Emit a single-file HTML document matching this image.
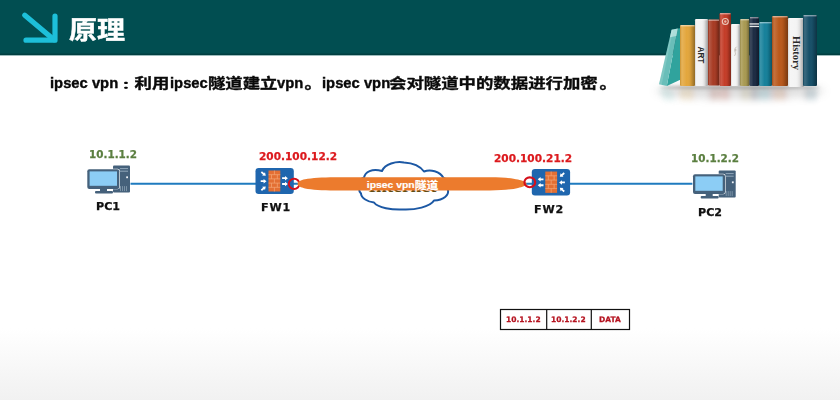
<!DOCTYPE html>
<html><head><meta charset="utf-8">
<style>
html,body{margin:0;padding:0;}
body{width:840px;height:400px;overflow:hidden;position:relative;background:linear-gradient(#fff 0,#fff 82%,#f1f1f1 100%);font-family:"Liberation Sans","Noto Sans CJK SC",sans-serif;}
.hdr{position:absolute;left:0;top:0;width:840px;height:55px;background:linear-gradient(#014e51 0,#014e51 52.5px,#003e40 54.5px,#014649 55px);border-bottom:1px solid #9dbcbd;}
.title{position:absolute;left:69px;top:13px;font-size:28px;font-weight:bold;color:#fff;line-height:32px;letter-spacing:0px;transform:scaleY(0.88);transform-origin:0 100%;-webkit-text-stroke:0.5px #fff;}
.main{position:absolute;left:0;top:70px;width:840px;height:24px;font-weight:bold;color:#0a0a0a;white-space:nowrap;}
.main span{position:absolute;top:0;line-height:24px;transform-origin:0 50%;}
.la{font-family:"Liberation Sans",sans-serif;font-size:15.4px;transform:scaleX(0.96);top:1px !important;-webkit-text-stroke:0.4px #0a0a0a;}
.cj{font-family:"Noto Sans CJK SC",sans-serif;font-size:17.4px;transform:scaleY(0.81);-webkit-text-stroke:0.45px #0a0a0a;}
.jp{font-family:"Noto Sans CJK JP",sans-serif;font-size:19px;font-weight:900;transform:scaleY(0.55);top:2.6px !important;-webkit-text-stroke:0 !important;}
.lbl{position:absolute;will-change:transform;-webkit-text-stroke:0.25px currentColor;font-weight:bold;font-size:10.2px;line-height:14px;white-space:nowrap;font-family:"DejaVu Sans","Liberation Sans",sans-serif;}
.g{color:#5b7f40;}
.r{color:#dc1a1e;}
.k{color:#111;}
.nm{font-size:11.1px;}
.pk{font-size:7.5px;color:#b5121f;}
svg{position:absolute;left:0;top:0;}
</style></head><body>
<div class="hdr"></div>
<svg width="840" height="400" viewBox="0 0 840 400">
  <!-- arrow -->
  <g stroke="#1dbfd9" stroke-width="5.2" stroke-linecap="round" stroke-linejoin="round" fill="none">
    <path d="M24.8 15.2 L54 39.8"/><path d="M26 40.2 H55 V16"/>
  </g>
  <!-- lines -->
  <g stroke="#1f7bbf" stroke-width="1.9">
    <path d="M130.500 183.700 H256"/><path d="M290 183.700 H534"/><path d="M569 183.700 H693"/>
  </g>
  <!-- cloud -->
  <path d="M359 188 C358 183 360 179 364 177.500 C365 172 372 168 382 171 C385 164 396 161 404 162.500 C412 163 420 166 424 171.500 C430 169 440 171 443.500 178 C449 180 451 186 448 190 C449 195 444 200 434 200.500 C430 207 415 210 403 209.500 C392 210 378 208 374 202.500 C368 202 361 198 361 193.500 C359.500 192 359 190 359 188Z" fill="#fff" stroke="#1c58a4" stroke-width="2" stroke-linejoin="round"/>
  <text x="368.500" y="192.400" font-family="Liberation Serif, serif" font-weight="bold" font-size="16.500" fill="#5f4c12" textLength="68" lengthAdjust="spacingAndGlyphs">Internet</text>
  <defs>
    <g id="fw">
      <rect x="0" y="0" width="38.300" height="26" rx="3.200" fill="#1f66ae"/>
      <rect x="13" y="2.500" width="11.800" height="21" fill="#e36f33"/>
      <g stroke="#f3a877" stroke-width=".7" fill="none">
        <path d="M13 6.700 H24.800 M13 10.900 H24.800 M13 15.100 H24.800 M13 19.300 H24.800"/>
        <path d="M18.900 2.500 V6.700 M16 6.700 V10.900 M21.800 6.700 V10.900 M18.900 10.900 V15.100 M16 15.100 V19.300 M21.800 15.100 V19.300 M18.900 19.300 V23.500"/>
      </g>
      <g fill="#fff">
        <path d="M5.200 12.300 H8.100 V11 L11 13.200 L8.100 15.400 V14.100 H5.200Z"/>
        <path d="M5.200 12.300 H8.100 V11 L11 13.200 L8.100 15.400 V14.100 H5.200Z" transform="translate(21.400 -3)"/>
        <path d="M5.200 12.300 H8.100 V11 L11 13.200 L8.100 15.400 V14.100 H5.200Z" transform="translate(21.400 2.800)"/>
        <path d="M5.200 12.300 H8.100 V11 L11 13.200 L8.100 15.400 V14.100 H5.200Z" transform="translate(0 -7.400) rotate(40 8 13.200)"/>
        <path d="M5.200 12.300 H8.100 V11 L11 13.200 L8.100 15.400 V14.100 H5.200Z" transform="translate(0 7.200) rotate(-40 8 13.200)"/>
      </g>
    </g>
    <g id="pc">
      <rect x="26" y="0" width="17" height="26.800" rx="1" fill="#45617b"/>
      <path d="M33 3 H41 M33 5.600 H41" stroke="#91a7ba" stroke-width="1"/>
      <rect x="39.200" y="10.800" width="1.800" height="1.800" fill="#f2f6fa"/>
      <path d="M33.500 20.500 V25.500 M35.500 20.500 V25.500 M37.500 20.500 V25.500 M39.500 20.500 V25.500" stroke="#8197ab" stroke-width=".9"/>
      <rect x="-0.300" y="3.100" width="33.200" height="20.600" rx="2.300" fill="#fff"/>
      <rect x="0.300" y="3.600" width="32" height="19.800" rx="2" fill="#45617b"/>
      <rect x="2.600" y="5.800" width="27.400" height="14.400" fill="#8ccdf5"/>
      <rect x="13" y="23" width="7" height="3" fill="#45617b"/>
      <rect x="8" y="25.400" width="18" height="2.500" rx="1" fill="#45617b"/>
    </g>
  </defs>
  <use href="#fw" x="0" y="0" transform="translate(255.500 168)"/>
  <use href="#fw" x="0" y="0" transform="translate(570.100 169) scale(-1 1.015)"/>
  <use href="#pc" transform="translate(87 165.600)"/>
  <use href="#pc" transform="translate(692.700 170.600)"/>
  <!-- red circles / tunnel -->
  <ellipse cx="294.100" cy="183.900" rx="5.300" ry="5.100" fill="none" stroke="#d4101c" stroke-width="2"/>
  <path d="M297.500 183.800 C297.500 181.500 301 180 305 179.200 C312 178 322 177.200 335 177.200 L490 177.200 C503 177.200 512 178.200 518 179.600 C522 180.600 526.500 182 526.500 183.800 C526.500 185.600 522 187 518 188 C512 189.400 503 190.400 490 190.400 L335 190.400 C322 190.400 312 189.600 305 188.400 C301 187.600 297.500 186.100 297.500 183.800Z" fill="#ec7b2d"/>
  <ellipse cx="529.800" cy="182.300" rx="5.400" ry="4.900" fill="none" stroke="#d4101c" stroke-width="2.100"/>
  <text transform="translate(366.8 188.2) scale(1 0.86)" font-family="Liberation Sans, Noto Sans CJK SC, sans-serif" font-weight="bold" font-size="10.4" fill="#fff" stroke="#fff" stroke-width=".2">ipsec vpn<tspan font-size="11.8" dy=".5">隧道</tspan></text>
  <!-- books -->
  <defs><linearGradient id="sh" x1="0" x2="1" y1="0" y2="0"><stop offset="0" stop-color="#000" stop-opacity=".1"/><stop offset=".12" stop-color="#fff" stop-opacity=".16"/><stop offset=".45" stop-color="#fff" stop-opacity="0"/><stop offset=".72" stop-color="#000" stop-opacity=".08"/><stop offset="1" stop-color="#000" stop-opacity=".36"/></linearGradient>
  <filter id="bl" x="-20%" y="-100%" width="140%" height="300%"><feGaussianBlur stdDeviation="4"/></filter>
  <filter id="bl1" x="-20%" y="-200%" width="140%" height="500%"><feGaussianBlur stdDeviation="1.5"/></filter><filter id="bl2" x="-20%" y="-100%" width="140%" height="300%"><feGaussianBlur stdDeviation="2.5 3"/></filter></defs>
  <ellipse cx="740" cy="91" rx="84" ry="7" fill="#888" opacity=".33" filter="url(#bl)"/><ellipse cx="740" cy="87.500" rx="80" ry="2" fill="#555" opacity=".35" filter="url(#bl1)"/>
  <g filter="url(#bl2)" opacity=".16">
  <path d="M659 88 L670 88 L676 100 L664 100z" fill="#5fb8b5"/>
  <rect x="680" y="88" width="15" height="12" fill="#e3a63c"/>
  <rect x="695" y="88" width="13" height="12" fill="#f3f3f3"/>
  <rect x="708" y="88" width="11.5" height="12" fill="#a73a23"/>
  <rect x="719.5" y="88" width="11.5" height="12" fill="#c43c27"/>
  <rect x="731" y="88" width="9" height="12" fill="#f4f4f4"/>
  <rect x="740" y="88" width="9.5" height="12" fill="#a99a52"/>
  <rect x="749.5" y="88" width="9.5" height="12" fill="#1b2a42"/>
  <rect x="759" y="88" width="13" height="12" fill="#15809a"/>
  <rect x="772" y="88" width="16" height="12" fill="#b9581b"/>
  <rect x="788" y="88" width="16" height="12" fill="#f4f4f4"/>
  <rect x="803" y="88" width="14" height="12" fill="#164f68"/>
  </g>
  <path d="M677.800 28.600 L680.800 28.200 L680.800 79.500 L666.800 86Z" fill="#30a39d"/>
  <path d="M671.600 29.800 L677.800 28.600 L666.800 86 L659 84.300Z" fill="#69beb9"/>
  <path d="M671.600 29.800 L677.800 28.600 L676.400 36 L670 37.200Z" fill="#c4e8e5" opacity=".75"/>
  <path d="M671.600 29.800 L673.200 29.500 L661.600 84.900 L659 84.300Z" fill="#fff" opacity=".14"/>
  <rect x="680" y="25" width="15" height="61" rx="1.2" fill="#e3a63c"/>
  <rect x="680" y="25" width="15" height="61" rx="1.2" fill="url(#sh)"/>
  <rect x="680.5" y="25" width="14" height="1.4" fill="#fff" opacity=".45"/>
  <rect x="695" y="19" width="13" height="67" rx="1.2" fill="#f3f3f3"/>
  <rect x="695" y="19" width="13" height="67" rx="1.2" fill="url(#sh)"/>
  <rect x="695.5" y="19" width="12" height="1.4" fill="#fff" opacity=".45"/>
  <rect x="708" y="19.5" width="11.5" height="66.0" rx="1.2" fill="#a73a23"/>
  <rect x="708" y="19.5" width="11.5" height="66.0" rx="1.2" fill="url(#sh)"/>
  <rect x="708.5" y="19.5" width="10.5" height="1.4" fill="#fff" opacity=".45"/>
  <rect x="719.5" y="13" width="11.5" height="73" rx="1.2" fill="#c43c27"/>
  <rect x="719.5" y="13" width="11.5" height="73" rx="1.2" fill="url(#sh)"/>
  <rect x="720.0" y="13" width="10.5" height="1.4" fill="#fff" opacity=".45"/>
  <rect x="731" y="24" width="9" height="62" rx="1.2" fill="#f4f4f4"/>
  <rect x="731" y="24" width="9" height="62" rx="1.2" fill="url(#sh)"/>
  <rect x="731.5" y="24" width="8" height="1.4" fill="#fff" opacity=".45"/>
  <rect x="740" y="19" width="9.5" height="67" rx="1.2" fill="#a99a52"/>
  <rect x="740" y="19" width="9.5" height="67" rx="1.2" fill="url(#sh)"/>
  <rect x="740.5" y="19" width="8.5" height="1.4" fill="#fff" opacity=".45"/>
  <rect x="749.5" y="17" width="9.5" height="69" rx="1.2" fill="#1b2a42"/>
  <rect x="749.5" y="17" width="9.5" height="69" rx="1.2" fill="url(#sh)"/>
  <rect x="750.0" y="17" width="8.5" height="1.4" fill="#fff" opacity=".45"/>
  <rect x="759" y="22" width="13" height="64" rx="1.2" fill="#15809a"/>
  <rect x="759" y="22" width="13" height="64" rx="1.2" fill="url(#sh)"/>
  <rect x="759.5" y="22" width="12" height="1.4" fill="#fff" opacity=".45"/>
  <rect x="772" y="16" width="16" height="70" rx="1.2" fill="#b9581b"/>
  <rect x="772" y="16" width="16" height="70" rx="1.2" fill="url(#sh)"/>
  <rect x="772.5" y="16" width="15" height="1.4" fill="#fff" opacity=".45"/>
  <rect x="788" y="18" width="16" height="69" rx="1.2" fill="#f4f4f4"/>
  <rect x="788" y="18" width="16" height="69" rx="1.2" fill="url(#sh)"/>
  <rect x="788.5" y="18" width="15" height="1.4" fill="#fff" opacity=".45"/>
  <rect x="803" y="15" width="14" height="71" rx="1.2" fill="#164f68"/>
  <rect x="803" y="15" width="14" height="71" rx="1.2" fill="url(#sh)"/>
  <rect x="803.5" y="15" width="13" height="1.4" fill="#fff" opacity=".45"/>
  <circle cx="725.300" cy="21.500" r="3" fill="none" stroke="#f0d8cc" stroke-width="1.1" opacity=".9"/><circle cx="725.300" cy="21.500" r="1.200" fill="#f0d8cc" opacity=".8"/>
  <rect x="749.500" y="23.300" width="9.500" height="1.300" fill="#e8e8e8"/><rect x="749.500" y="25.800" width="9.500" height="1.300" fill="#e8e8e8"/>
  <text transform="translate(698.2 46.5) rotate(90)" font-family="Liberation Sans, sans-serif" font-weight="bold" font-size="8.2" fill="#2a2a2a">ART</text>
  <path d="M736.300 47 c-1.200 1 -2 2.500 -1.200 3.600 c.700 .900 1.500 -.600 .800 -1.200 c-.900 -.700 -1.500 1.800 -.700 3 c.500 1 .200 2.200 -.500 3.200" fill="none" stroke="#a59a90" stroke-width=".55" stroke-linecap="round"/>
  <text transform="translate(792.800 36) rotate(90)" font-family="Liberation Serif, serif" font-weight="bold" font-size="10.500" fill="#2a2a2a" textLength="34">History</text>
  <!-- packet -->
  <g fill="#fff" stroke="#111" stroke-width="1.2">
    <rect x="500.500" y="309.500" width="129" height="20"/>
    <path d="M546.700 309.500 V329.500 M591.300 309.500 V329.500"/>
  </g>
</svg>
<div class="title">原理</div>
<div class="main"><span class="la" id="s1" style="left:49.5px">ipsec vpn</span><span class="cj jp" id="s2" style="left:116.4px">：</span><span class="cj" id="s3" style="left:134.5px">利用</span><span class="la" id="s4" style="left:169.6px">ipsec</span><span class="cj" id="s5" style="left:207.9px">隧道建立</span><span class="la" id="s6" style="left:276.7px">vpn</span><span class="cj" id="s7" style="left:304.5px">。</span><span class="la" id="s8" style="left:321.6px"> ipsec vpn</span><span class="cj" id="s9" style="left:389px">会对隧道中的数据进行加密</span><span class="cj" id="s10" style="left:599.5px">。</span></div>
<div class="lbl g" id="l1" style="left:89.3px;top:146.6px;font-size:10.4px">10.1.1.2</div>
<div class="lbl r" id="l2" style="left:259.3px;top:148.9px;font-size:10.55px">200.100.12.2</div>
<div class="lbl r" id="l3" style="left:493.5px;top:150.6px;font-size:10.55px">200.100.21.2</div>
<div class="lbl g" id="l4" style="left:690.6px;top:150.8px;font-size:10.4px">10.1.2.2</div>
<div class="lbl k nm" id="l5" style="left:95.7px;top:199.5px;">PC1</div>
<div class="lbl k nm" id="l6" style="left:260.5px;top:200.6px;letter-spacing:0.8px">FW1</div>
<div class="lbl k nm" id="l7" style="left:534.4px;top:202.8px;letter-spacing:0.8px">FW2</div>
<div class="lbl k nm" id="l8" style="left:698.4px;top:205.5px;">PC2</div>
<div class="lbl pk" id="l9" style="left:506px;top:313px;">10.1.1.2</div>
<div class="lbl pk" id="l10" style="left:551.4px;top:313px;">10.1.2.2</div>
<div class="lbl pk" id="l11" style="left:599px;top:313px;">DATA</div>
</body></html>
